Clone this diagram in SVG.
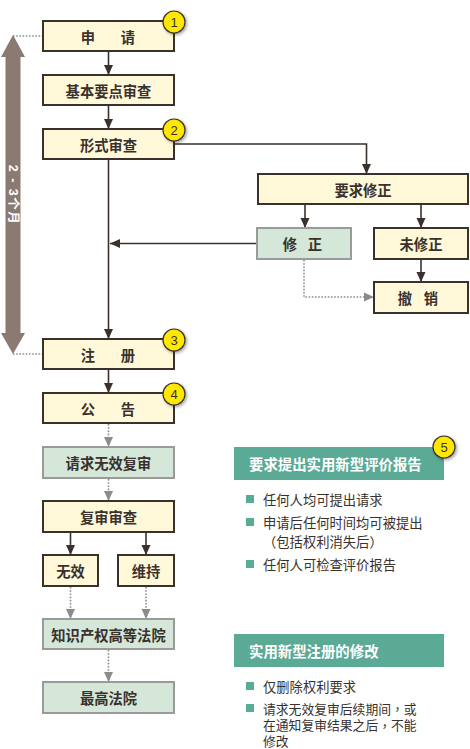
<svg xmlns="http://www.w3.org/2000/svg" width="470" height="749" viewBox="0 0 470 749">
<defs>
<style>
.box{fill:#fff9da;stroke:#3a312d;stroke-width:2}
.gbox{fill:#d4e7d8;stroke:#9a9a9a;stroke-width:2}
.t{font-family:"Noto Sans CJK SC","Noto Sans CJK JP",sans-serif;font-weight:bold;font-size:14.3px;fill:#3a312d;text-anchor:middle;dominant-baseline:central}
.ln{fill:none;stroke:#3a312d;stroke-width:1.6}
.dl{fill:none;stroke:#8c8c8c;stroke-width:1.6;stroke-dasharray:1.6 1.6}
.badge{fill:#ffe800;stroke:#3a312d;stroke-width:1.2}
.bt{font-family:"Liberation Sans",Arial,sans-serif;font-size:13px;fill:#3a312d;text-anchor:middle;dominant-baseline:central}
.hdr{fill:#5aaa96}
.ht{font-family:"Noto Sans CJK SC","Noto Sans CJK JP",sans-serif;font-weight:bold;font-size:14.4px;fill:#ffffff;dominant-baseline:central}
.bl{fill:#5aaa96}
.lt{font-family:"Noto Sans CJK SC","Noto Sans CJK JP",sans-serif;font-size:13.3px;fill:#3a312d;dominant-baseline:central}
.lt2{font-family:"Noto Sans CJK SC","Noto Sans CJK JP",sans-serif;font-size:12.8px;fill:#3a312d;dominant-baseline:central}
.pu{font-family:"Noto Sans CJK TC","Noto Sans CJK SC",sans-serif}
</style>
<marker id="ah" markerUnits="userSpaceOnUse" markerWidth="10" markerHeight="10" refX="10" refY="5" orient="auto" viewBox="0 0 10 10">
<path d="M0,0.5 L10,5 L0,9.5 z" fill="#3a312d"/>
</marker>
<marker id="gh" markerUnits="userSpaceOnUse" markerWidth="10" markerHeight="10" refX="10" refY="5" orient="auto" viewBox="0 0 10 10">
<path d="M0,0.5 L10,5 L0,9.5 z" fill="#8c8c8c"/>
</marker>
<filter id="sh" x="-50%" y="-50%" width="200%" height="200%">
<feDropShadow dx="1.5" dy="1.5" stdDeviation="1.5" flood-color="#000" flood-opacity="0.35"/>
</filter>
</defs>
<rect x="0" y="0" width="470" height="749" fill="#ffffff"/>

<g id="duration">
<path d="M13,35 L25,57 L20.5,57 L20.5,333 L25,333 L13,354 L1,333 L5.5,333 L5.5,57 L1,57 z" fill="#8a7a72"/>
<text transform="translate(13,195) rotate(90)" font-family="Liberation Sans,'Noto Sans CJK SC',sans-serif" font-weight="bold" font-size="12.5" letter-spacing="1.5" fill="#ffffff" text-anchor="middle" dominant-baseline="central">2 - 3个月</text>
</g>

<g id="connectors">
<path class="dl" d="M13,36 H42"/>
<path class="dl" d="M13,354 H42"/>
<path class="ln" d="M108.5,52 V75" marker-end="url(#ah)"/>
<path class="ln" d="M108.5,106 V129" marker-end="url(#ah)"/>
<path class="ln" d="M175,144 H366.5 V174" marker-end="url(#ah)"/>
<path class="ln" d="M108.5,160 V339" marker-end="url(#ah)"/>
<path class="ln" d="M256,243.5 H110" marker-end="url(#ah)"/>
<path class="ln" d="M305,205 V228" marker-end="url(#ah)"/>
<path class="ln" d="M421,205 V228" marker-end="url(#ah)"/>
<path class="ln" d="M421,260 V282" marker-end="url(#ah)"/>
<path class="dl" d="M304,260 V297 H374" marker-end="url(#gh)"/>
<path class="ln" d="M108.5,370 V393" marker-end="url(#ah)"/>
<path class="dl" d="M108.5,424 V447" marker-end="url(#gh)"/>
<path class="dl" d="M108.5,479 V501" marker-end="url(#gh)"/>
<path class="ln" d="M70.5,533 V555" marker-end="url(#ah)"/>
<path class="ln" d="M146,533 V555" marker-end="url(#ah)"/>
<path class="dl" d="M70.5,587 V619" marker-end="url(#gh)"/>
<path class="dl" d="M146,587 V619" marker-end="url(#gh)"/>
<path class="dl" d="M108.5,650 V682" marker-end="url(#gh)"/>
</g>

<g id="n-apply"><rect class="box" x="43" y="21" width="131" height="30"/><text class="t" x="88 128" y="36">申请</text></g>
<g id="n-basic"><rect class="box" x="43" y="75" width="131" height="30"/><text class="t" x="108.5" y="90">基本要点审查</text></g>
<g id="n-formal"><rect class="box" x="43" y="129" width="131" height="30"/><text class="t" x="108.5" y="144">形式审查</text></g>
<g id="n-req-amend"><rect class="box" x="258" y="174" width="210" height="30"/><text class="t" x="363" y="189">要求修正</text></g>
<g id="n-amend"><rect class="gbox" x="257" y="228" width="94" height="31"/><text class="t" x="290 315" y="243.5">修正</text></g>
<g id="n-no-amend"><rect class="box" x="374" y="228" width="94" height="31"/><text class="t" x="421" y="243.5">未修正</text></g>
<g id="n-withdraw"><rect class="box" x="374" y="282" width="94" height="31"/><text class="t" x="405 431" y="297.5">撤销</text></g>
<g id="n-register"><rect class="box" x="43" y="339" width="131" height="30"/><text class="t" x="88 128" y="354">注册</text></g>
<g id="n-publish"><rect class="box" x="43" y="393" width="131" height="30"/><text class="t" x="88 128" y="408">公告</text></g>
<g id="n-invalid-req"><rect class="gbox" x="43" y="447" width="131" height="31"/><text class="t" x="108.5" y="462.5">请求无效复审</text></g>
<g id="n-review"><rect class="box" x="43" y="501" width="131" height="31"/><text class="t" x="108.5" y="516.5">复审审查</text></g>
<g id="n-invalid"><rect class="box" x="43" y="555" width="55" height="31"/><text class="t" x="70.5" y="570.5">无效</text></g>
<g id="n-maintain"><rect class="box" x="118" y="555" width="56" height="31"/><text class="t" x="146" y="570.5">维持</text></g>
<g id="n-ipcourt"><rect class="gbox" x="43" y="619" width="131" height="30"/><text class="t" x="108.5" y="634">知识产权高等法院</text></g>
<g id="n-supreme"><rect class="gbox" x="43" y="682" width="131" height="31"/><text class="t" x="108.5" y="697.5">最高法院</text></g>

<g id="panel-report">
<rect class="hdr" x="234" y="447" width="210" height="33"/>
<text class="ht" x="249" y="463.5">要求提出实用新型评价报告</text>
<rect class="bl" x="246" y="495" width="8" height="8"/>
<text class="lt" x="263" y="499.5">任何人均可提出请求</text>
<rect class="bl" x="246" y="518" width="8" height="8"/>
<text class="lt" x="263" y="522">申请后任何时间均可被提出</text>
<text class="lt" x="263" y="541"><tspan class="pu">（</tspan>包括权利消失后<tspan class="pu">）</tspan></text>
<rect class="bl" x="246" y="560" width="8" height="8"/>
<text class="lt" x="263" y="564">任何人可检查评价报告</text>
</g>

<g id="panel-amend">
<rect class="hdr" x="234" y="634" width="210" height="33"/>
<text class="ht" x="249" y="650">实用新型注册的修改</text>
<rect class="bl" x="246" y="682" width="8" height="8"/>
<text class="lt" x="263" y="686">仅删除权利要求</text>
<rect class="bl" x="246" y="704" width="8" height="8"/>
<text class="lt2" x="263" y="708">请求无效复审后续期间<tspan class="pu">，</tspan>或</text>
<text class="lt2" x="263" y="724.5">在通知复审结果之后<tspan class="pu">，</tspan>不能</text>
<text class="lt2" x="263" y="740.5">修改</text>
</g>

<g id="badges">
<g id="b1"><circle class="badge" cx="174" cy="22" r="11" filter="url(#sh)"/><text class="bt" x="174" y="22.5">1</text></g>
<g id="b2"><circle class="badge" cx="174" cy="130" r="11" filter="url(#sh)"/><text class="bt" x="174" y="130.5">2</text></g>
<g id="b3"><circle class="badge" cx="174" cy="340" r="11" filter="url(#sh)"/><text class="bt" x="174" y="340.5">3</text></g>
<g id="b4"><circle class="badge" cx="174" cy="394" r="11" filter="url(#sh)"/><text class="bt" x="174" y="394.5">4</text></g>
<g id="b5"><circle class="badge" cx="444" cy="447" r="11" filter="url(#sh)"/><text class="bt" x="444" y="447.5">5</text></g>
</g>
</svg>
